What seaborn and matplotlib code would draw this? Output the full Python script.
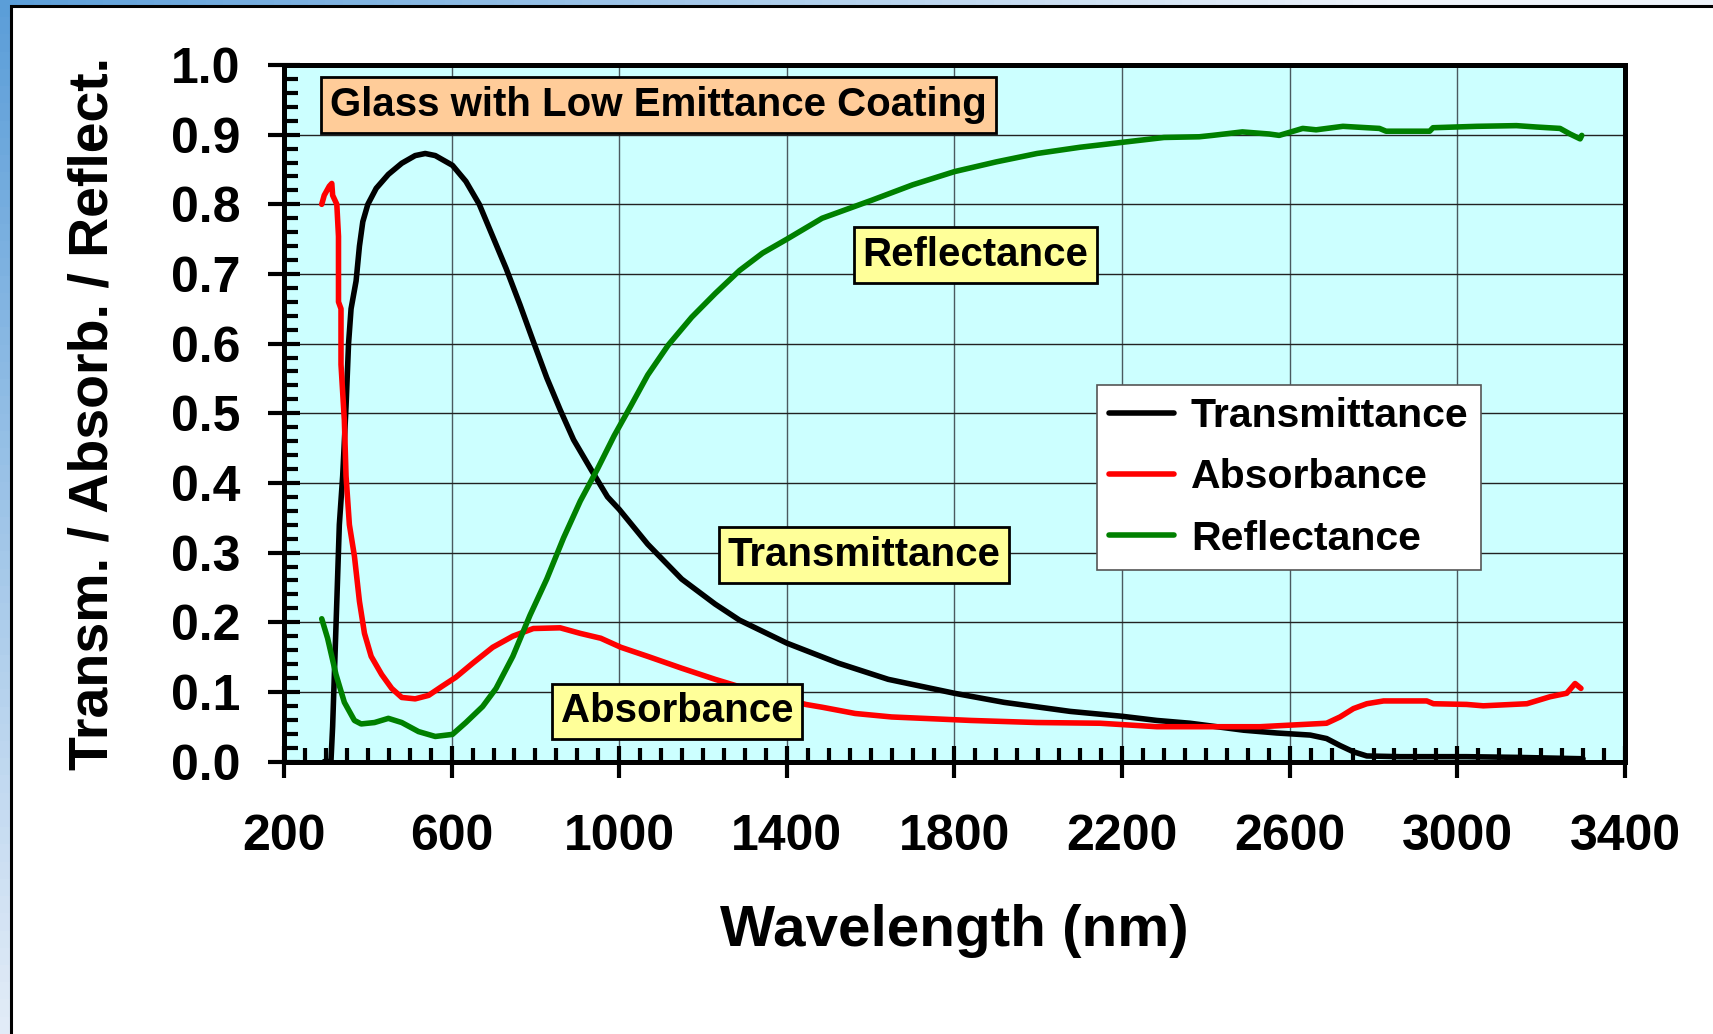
import numpy as np
import pandas as pd
import seaborn as sns
import matplotlib.pyplot as plt
from matplotlib.ticker import MultipleLocator, FixedLocator, FormatStrFormatter
from matplotlib.patches import Rectangle

# Data
wl_trans = [296, 312, 316, 326, 332, 340, 348, 354, 360, 372, 380, 388, 400, 420, 449, 481, 513,
            537, 561, 602, 634, 666, 698, 730, 763, 795, 827, 859, 891, 932, 972, 1000, 1068,
            1149, 1229, 1287, 1400, 1524, 1642, 1800, 1918, 2076, 2200, 2283, 2362, 2426, 2490,
            2569, 2649, 2688, 2720, 2752, 2784, 2863, 3022, 3142, 3300]
trans = [0.0, 0.0, 0.05, 0.23, 0.34, 0.41, 0.51, 0.60, 0.65, 0.69, 0.74, 0.775, 0.80, 0.823, 0.843,
         0.859, 0.870, 0.873, 0.870, 0.856, 0.833, 0.800, 0.754, 0.708, 0.656, 0.603, 0.551,
         0.505, 0.462, 0.420, 0.380, 0.362, 0.312, 0.262, 0.226, 0.203, 0.170, 0.141, 0.118,
         0.098, 0.085, 0.072, 0.065, 0.059, 0.055, 0.050, 0.045, 0.041, 0.038, 0.033, 0.023,
         0.014, 0.008, 0.007, 0.007, 0.006, 0.004]

wl_abs = [290, 296, 308, 314, 316, 326, 330, 330, 336, 336, 344, 348, 356, 368, 380, 392, 408,
          433, 457, 481, 513, 545, 577, 610, 650, 698, 746, 795, 859, 907, 956, 1004, 1068,
          1149, 1229, 1300, 1445, 1484, 1563, 1650, 1839, 1997, 2147, 2283, 2529, 2688, 2720,
          2752, 2784, 2824, 2927, 2943, 3022, 3062, 3166, 3221, 3261, 3281, 3295]
absorb = [0.80, 0.813, 0.826, 0.830, 0.813, 0.80, 0.754, 0.66, 0.65, 0.57, 0.49, 0.41, 0.34,
          0.295, 0.23, 0.184, 0.151, 0.125, 0.105, 0.092, 0.090, 0.095, 0.108, 0.121, 0.141,
          0.164, 0.180, 0.191, 0.192, 0.184, 0.177, 0.164, 0.151, 0.134, 0.118, 0.105, 0.082,
          0.078, 0.069, 0.064, 0.059, 0.056, 0.055, 0.050, 0.050, 0.055, 0.064, 0.076, 0.083,
          0.087, 0.087, 0.083, 0.082, 0.080, 0.083, 0.093, 0.098, 0.112, 0.105]

wl_refl = [290, 304, 324, 344, 368, 384, 416, 449, 481, 521, 561, 602, 634, 674, 706, 746, 787,
           827, 867, 907, 948, 988, 1028, 1068, 1117, 1173, 1229, 1287, 1342, 1400, 1484, 1603,
           1700, 1800, 1900, 1997, 2100, 2200, 2300, 2384, 2416, 2487, 2551, 2575, 2631, 2663,
           2727, 2814, 2830, 2934, 2942, 3046, 3141, 3189, 3245, 3269, 3293, 3297]
refl = [0.205, 0.177, 0.125, 0.085, 0.059, 0.054, 0.056, 0.062, 0.056, 0.043, 0.036, 0.039,
        0.056, 0.079, 0.105, 0.151, 0.210, 0.262, 0.321, 0.374, 0.420, 0.468, 0.511, 0.555,
        0.598, 0.638, 0.672, 0.705, 0.730, 0.750, 0.780, 0.806, 0.828, 0.847, 0.861, 0.873,
        0.882, 0.889, 0.896, 0.897, 0.899, 0.904, 0.901, 0.899, 0.909, 0.907, 0.912, 0.909,
        0.905, 0.905, 0.910, 0.912, 0.913, 0.911, 0.909, 0.901, 0.894, 0.899]

series_names = ['Transmittance', 'Absorbance', 'Reflectance']
series_colors = ['#000000', '#FF0000', '#008000']
x_ticks = [200, 600, 1000, 1400, 1800, 2200, 2600, 3000, 3400]

sns.set_style('white')
plt.rcParams['font.family'] = ['Liberation Sans', 'DejaVu Sans']
plt.rcParams['font.weight'] = 'bold'
for key in ['text.color', 'axes.labelcolor', 'xtick.color', 'ytick.color']:
    plt.rcParams[key] = 'black'

fig = plt.figure(figsize=(17.13, 10.34), dpi=100)

# bluish gradient frame at top / left edge
bg = fig.add_axes([0, 0, 1, 1], zorder=-10)
gy, gx = np.mgrid[0:1:60j, 0:1:100j]
t = np.clip(np.sqrt((gx * 1.6) ** 2 + (gy * 1.2) ** 2) / 1.3, 0, 1)[..., None]
dark = np.array([0.36, 0.62, 0.85])
light = np.array([0.93, 0.95, 0.98])
bg.imshow(dark * (1 - t) + light * t, extent=[0, 1, 0, 1], aspect='auto', origin='upper')
bg.set_xlim(0, 1)
bg.set_ylim(0, 1)
bg.axis('off')
bg.add_patch(Rectangle((11 / 1713, -0.05), 1.1, 1.05 - 6 / 1034, facecolor='white',
                       edgecolor='black', linewidth=2.2))

ax = fig.add_axes([0.1658, 0.2635, 0.9486 - 0.1658, 0.9371 - 0.2635])
ax.set_facecolor('#CCFFFF')

for wl, vals, name, col in zip([wl_trans, wl_abs, wl_refl], [trans, absorb, refl],
                               series_names, series_colors):
    df = pd.DataFrame({'wavelength': wl, 'value': vals})
    sns.lineplot(data=df, x='wavelength', y='value', ax=ax, color=col, linewidth=4.0,
                 estimator=None, sort=False, label=name)

ax.set_xlim(200, 3400)
ax.set_ylim(0, 1.0)
ax.xaxis.set_major_locator(FixedLocator(x_ticks))
ax.xaxis.set_minor_locator(MultipleLocator(50))
ax.yaxis.set_major_locator(MultipleLocator(0.1))
ax.yaxis.set_minor_locator(MultipleLocator(0.02))
ax.yaxis.set_major_formatter(FormatStrFormatter('%.1f'))

ax.xaxis.grid(True, which='major', color='#4a5a60', lw=1.0)
ax.yaxis.grid(True, which='major', color='#222222', lw=1.0)
ax.set_axisbelow(True)

for sp in ax.spines.values():
    sp.set_linewidth(3.6)
    sp.set_color('black')

ax.tick_params(which='both', bottom=True, left=True, top=False, right=False)
ax.tick_params(which='major', direction='inout', length=23, width=3, labelsize=36, pad=20,
               colors='black')
ax.tick_params(axis='x', which='major', pad=26)
ax.tick_params(which='minor', direction='in', length=10, width=3, colors='black')
for lab in ax.get_xticklabels() + ax.get_yticklabels():
    lab.set_fontweight('bold')

ax.set_xlabel('Wavelength (nm)', fontsize=42, fontweight='bold')
ax.set_ylabel('Transm. / Absorb. / Reflect.', fontsize=40, fontweight='bold')
ax.xaxis.set_label_coords(0.5, -0.205)
ax.yaxis.set_label_coords(-0.123, 0.5)

# text boxes
ax.text(1094, 0.943, 'Glass with Low Emittance Coating', fontsize=29, fontweight='bold',
        ha='center', va='center',
        bbox=dict(boxstyle='square,pad=0.22', fc='#FFCC99', ec='black', lw=2))
box_kw = dict(boxstyle='square,pad=0.22', fc='#FFFF99', ec='black', lw=2)
ax.text(1850, 0.727, 'Reflectance', fontsize=29, fontweight='bold', ha='center',
        va='center', bbox=box_kw)
ax.text(1584, 0.297, 'Transmittance', fontsize=29, fontweight='bold', ha='center',
        va='center', bbox=box_kw)
ax.text(1138, 0.072, 'Absorbance', fontsize=29, fontweight='bold', ha='center',
        va='center', bbox=box_kw)

leg = ax.legend(loc='upper left', bbox_to_anchor=(0.606, 0.541), borderaxespad=0,
                fancybox=False, framealpha=1, edgecolor='#555555', facecolor='white',
                prop={'size': 29.5, 'weight': 'bold'}, handlelength=1.6,
                labelspacing=0.57, handletextpad=0.4, borderpad=0.3)
leg.get_frame().set_linewidth(1.2)

fig.savefig('out.png', dpi=100)
